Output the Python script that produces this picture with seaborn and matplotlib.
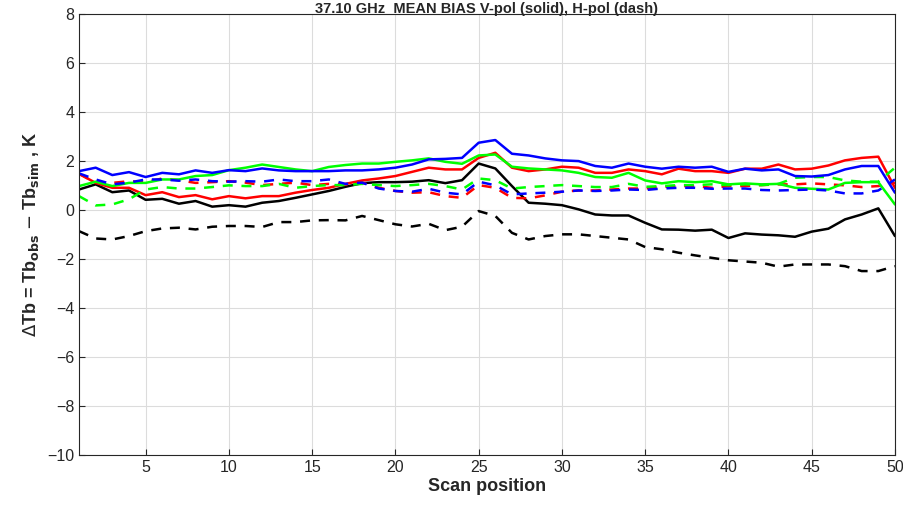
import numpy as np
import pandas as pd
import matplotlib
matplotlib.use("Agg")
import matplotlib.pyplot as plt
import seaborn as sns

scan = list(range(1, 51))

black_v = [0.84, 1.05, 0.73, 0.80, 0.42, 0.46, 0.26, 0.37, 0.14, 0.20,
           0.14, 0.30, 0.37, 0.50, 0.64, 0.78, 0.95, 1.10, 1.14, 1.14,
           1.16, 1.22, 1.10, 1.22, 1.90, 1.70, 0.98, 0.30, 0.26, 0.20,
           0.03, -0.18, -0.22, -0.22, -0.52, -0.79, -0.80, -0.84, -0.80, -1.14,
           -0.95, -1.00, -1.03, -1.09, -0.88, -0.76, -0.38, -0.18, 0.07, -1.06]
black_h = [-0.86, -1.16, -1.20, -1.06, -0.86, -0.75, -0.72, -0.79, -0.68, -0.65,
           -0.65, -0.69, -0.49, -0.49, -0.42, -0.41, -0.42, -0.24, -0.41, -0.58,
           -0.67, -0.56, -0.82, -0.68, -0.04, -0.24, -0.93, -1.20, -1.06, -0.99,
           -0.99, -1.06, -1.13, -1.20, -1.51, -1.60, -1.74, -1.85, -1.95, -2.05,
           -2.10, -2.15, -2.31, -2.22, -2.22, -2.22, -2.29, -2.49, -2.49, -2.29]
red_v = [1.48, 1.11, 0.91, 0.91, 0.61, 0.73, 0.53, 0.61, 0.44, 0.57,
         0.48, 0.57, 0.57, 0.71, 0.82, 0.91, 1.07, 1.21, 1.29, 1.39,
         1.56, 1.73, 1.66, 1.66, 2.13, 2.34, 1.73, 1.59, 1.66, 1.77,
         1.73, 1.52, 1.52, 1.66, 1.59, 1.46, 1.69, 1.59, 1.59, 1.52,
         1.69, 1.69, 1.86, 1.66, 1.69, 1.82, 2.03, 2.13, 2.18, 0.91]
red_h = [1.48, 1.12, 1.11, 1.18, 1.14, 1.29, 1.22, 1.11, 1.14, 1.18,
         1.12, 1.02, 1.07, 1.12, 1.02, 1.07, 1.05, 1.12, 0.91, 0.78,
         0.71, 0.73, 0.57, 0.50, 1.02, 0.91, 0.50, 0.48, 0.60, 0.75,
         0.80, 0.80, 0.84, 0.88, 0.88, 0.94, 0.98, 0.98, 0.91, 0.98,
         0.98, 1.02, 1.05, 1.05, 1.09, 1.05, 1.01, 0.94, 0.98, 1.12]
green_v = [0.98, 1.16, 0.98, 1.11, 1.11, 1.25, 1.25, 1.39, 1.43, 1.63,
           1.73, 1.86, 1.76, 1.66, 1.59, 1.76, 1.84, 1.90, 1.90, 1.97,
           2.03, 2.11, 1.97, 1.89, 2.23, 2.27, 1.77, 1.70, 1.66, 1.62,
           1.52, 1.35, 1.32, 1.52, 1.21, 1.09, 1.18, 1.14, 1.18, 1.05,
           1.09, 1.05, 1.07, 0.91, 0.87, 0.84, 1.11, 1.14, 1.14, 0.23]
green_h = [0.57, 0.19, 0.23, 0.44, 0.84, 0.94, 0.88, 0.88, 0.94, 1.01,
           0.98, 0.98, 1.07, 0.91, 0.98, 1.02, 1.02, 1.07, 1.02, 0.98,
           1.02, 1.07, 0.98, 0.84, 1.29, 1.22, 0.88, 0.94, 0.98, 1.02,
           0.98, 0.94, 0.94, 1.07, 0.95, 0.98, 1.02, 1.02, 1.05, 1.02,
           1.05, 1.02, 1.07, 1.32, 1.35, 1.35, 1.21, 1.16, 1.16, 1.73]
blue_v = [1.59, 1.73, 1.43, 1.55, 1.35, 1.52, 1.46, 1.62, 1.52, 1.63,
          1.59, 1.70, 1.62, 1.59, 1.59, 1.59, 1.62, 1.62, 1.66, 1.73,
          1.86, 2.07, 2.09, 2.13, 2.75, 2.86, 2.30, 2.23, 2.11, 2.03,
          2.00, 1.80, 1.73, 1.90, 1.77, 1.69, 1.77, 1.73, 1.77, 1.56,
          1.69, 1.62, 1.66, 1.39, 1.37, 1.43, 1.66, 1.80, 1.80, 0.71]
blue_h = [1.50, 1.25, 1.05, 1.12, 1.25, 1.25, 1.20, 1.25, 1.18, 1.16,
          1.18, 1.16, 1.25, 1.18, 1.18, 1.25, 1.07, 1.12, 0.88, 0.78,
          0.75, 0.87, 0.71, 0.64, 1.16, 1.01, 0.64, 0.68, 0.71, 0.75,
          0.80, 0.78, 0.80, 0.84, 0.82, 0.88, 0.91, 0.91, 0.87, 0.88,
          0.88, 0.82, 0.80, 0.82, 0.84, 0.80, 0.68, 0.68, 0.80, 1.25]

series = [
    (black_v, "#000000", "-"), (black_h, "#000000", "--"),
    (red_v, "#ff0000", "-"), (red_h, "#ff0000", "--"),
    (green_v, "#00ff00", "-"), (green_h, "#00ff00", "--"),
    (blue_v, "#0000ff", "-"), (blue_h, "#0000ff", "--"),
]

sns.set_theme(style="white")
plt.rcParams['font.family'] = ['Liberation Sans', 'DejaVu Sans']

fig = plt.figure(figsize=(9.04, 5.05), dpi=100)
ax = fig.add_axes([0.0874, 0.099, 0.9026, 0.873])

for vals, col, ls in series:
    sns.lineplot(x=scan, y=vals, color=col, ax=ax, linewidth=1.8,
                 linestyle=ls, legend=False)
for line in ax.lines:
    if line.get_linestyle() == '--':
        line.set_dashes([4, 3.5])

ax.set_xlim(1, 50)
ax.set_ylim(-10, 8)
ax.set_xticks([5, 10, 15, 20, 25, 30, 35, 40, 45, 50])
ax.set_yticks(np.arange(-10, 9, 2))
ax.grid(True, color="#dcdcdc", linewidth=0.8)
ax.set_axisbelow(True)
for s in ax.spines.values():
    s.set_color("#262626")
    s.set_linewidth(0.8)
ax.tick_params(direction="in", length=4, width=0.8, colors="#262626",
               labelsize=11.5, top=False, right=False, left=True, bottom=True)
for lab in ax.get_xticklabels() + ax.get_yticklabels():
    lab.set_color("#262626")

ax.set_xlabel("Scan position", fontsize=13, fontweight="bold", color="#262626", labelpad=2)
ax.set_ylabel(r"$\Delta$Tb = Tb$_{\mathbf{obs}}$ $-$ Tb$_{\mathbf{sim}}$ , K",
              fontsize=13, fontweight="bold", color="#262626", labelpad=4)
ax.set_title("37.10 GHz  MEAN BIAS V-pol (solid), H-pol (dash)",
             fontsize=10.5, fontweight="bold", color="#262626", pad=0.5)

fig.savefig("out.png", dpi=100)
